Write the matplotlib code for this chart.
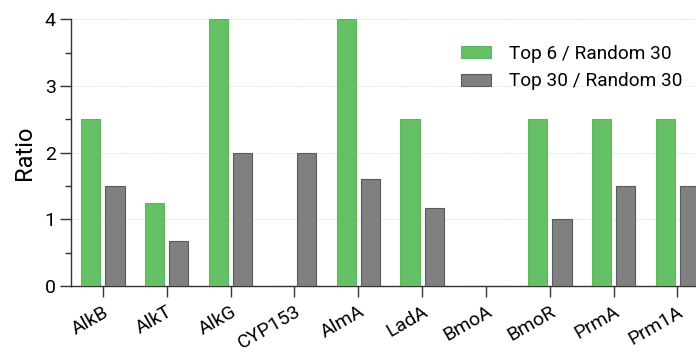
import numpy as np
import matplotlib.pyplot as plt
from matplotlib.ticker import MultipleLocator

plt.rcParams['font.family'] = ['Roboto', 'DejaVu Sans']

genes = ["AlkB", "AlkT", "AlkG", "CYP153", "AlmA", "LadA", "BmoA", "BmoR", "PrmA", "Prm1A"]
top6_random30 = [2.5, 1.25, 4.0, 0.0, 4.0, 2.5, 0.0, 2.5, 2.5, 2.5]
top30_random30 = [1.5, 0.67, 2.0, 2.0, 1.6, 1.17, 0.0, 1.0, 1.5, 1.5]

green = "#66c166"
grey = "#808080"

fig = plt.figure(figsize=(6.96, 3.54), dpi=100)
ax = fig.add_axes([0.102, 0.192, 0.898, 0.7535])

x = np.arange(len(genes))
w = 0.30
off = 0.19
ax.bar(x - off, top6_random30, width=w, color=green, edgecolor="#5cb85c",
       linewidth=0.8, label="Top 6 / Random 30", zorder=3)
ax.bar(x + off, top30_random30, width=w, color=grey, edgecolor="#5a5a5a",
       linewidth=0.8, label="Top 30 / Random 30", zorder=3)

ax.set_xlim(-0.5, 9.29)
ax.set_ylim(0, 4)
ax.yaxis.set_major_locator(MultipleLocator(1))
ax.yaxis.set_minor_locator(MultipleLocator(0.5))
ax.set_xticks(x)
ax.set_xticklabels(genes, rotation=30, ha="right", rotation_mode="anchor",
                   fontsize=14)
ax.tick_params(axis="y", which="major", length=8, width=1, labelsize=14,
               color="#333333", pad=3)
ax.tick_params(axis="y", which="minor", length=4, width=1, color="#333333")
ax.tick_params(axis="x", length=8, width=1, color="#333333", pad=4)
ax.set_ylabel("Ratio", fontsize=17, labelpad=6)

for s in ["top", "right"]:
    ax.spines[s].set_visible(False)
for s in ["left", "bottom"]:
    ax.spines[s].set_color("#333333")
    ax.spines[s].set_linewidth(1)

ax.yaxis.grid(True, linestyle=(0, (1, 1)), color="#dddddd", linewidth=0.7, zorder=0)
ax.set_axisbelow(True)

ax.legend(loc="upper left", bbox_to_anchor=(0.597, 0.968), frameon=False,
          fontsize=13.7, handlelength=1.55, handleheight=0.6, handletextpad=0.95,
          labelspacing=0.5)

fig.savefig("out.png", dpi=100)
